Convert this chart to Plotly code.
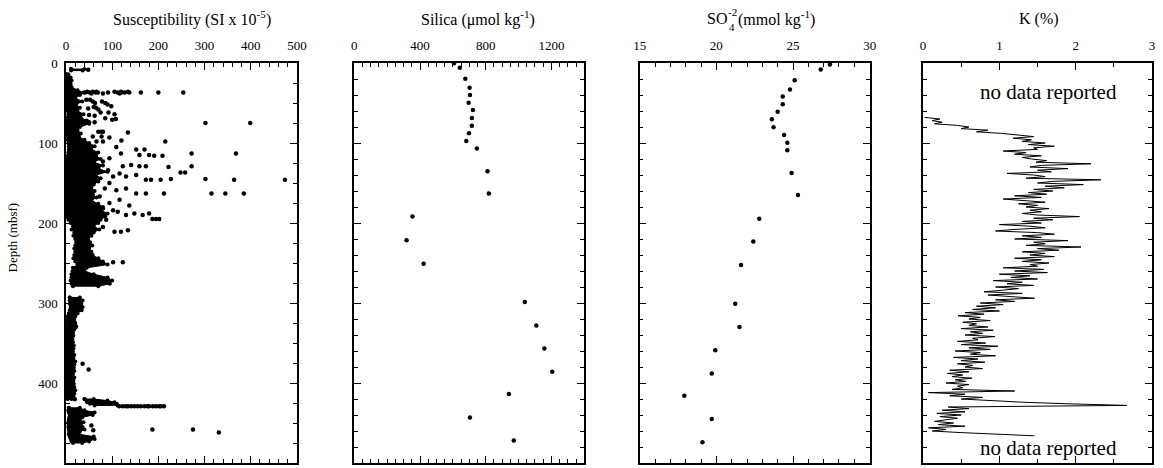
import plotly.graph_objects as go

FONT = "Liberation Serif"

# ---------------- Magnetic susceptibility (SI x 1e-5) ----------------
# Dense part of the log, as depth / low / high envelope; None separates depth intervals
susc_core_depth = [7.5, 9.5, None,
                   14, 18, 22, 26, 30, 34, 37, 40, 44, 48, 52, 56, 60, 64, 68, 72, 76, 80, 84, 88, 92, 96,
                   100, 104, 108, 112, 116, 120, 124, 128, 132, 136, 140, 144, 148, 152, 156, 160, 164,
                   168, 172, 176, 180, 184, 188, 192, 196, 200, 204, 208, 212, 216, 220, 224, 228, 232,
                   236, 240, 244, 248, 252, 256, 260, 264, 268, 272, 276, 279, None,
                   293, 297, 301, 305, 309, 313, 317, 321, 325, 329, 333, 337, 341, 345, 349, 353, 357,
                   361, 365, 369, 373, 377, 381, 385, 389, 393, 397, 401, 405, 409, 413, 417, 420, None,
                   420, 422, 424, 426, 428, None,
                   431, 434, 437, 440, 443, 446, 449, 452, 455, 458, 461, 464, 467, 470, 473, 475]
susc_core_lo = [11, 11, None,
                0, 0, 0, 1, 0, 1, 1, 1, 1, 2, 2, 3, 4, 5, 4, 1, 2, 1, 1, 2, 3, 4,
                5, 6, 6, 5, 4, 3, 2, 3, 1, 2, 3, 2, 1, 2, 1, 1, 2,
                1, 2, 1, 2, 1, 3, 2, 5, 10, 15, 12, 18, 16, 20, 22, 20, 18,
                20, 18, 16, 20, 25, 15, 14, 12, 12, 10, 12, 15, None,
                8, 8, 8, 10, 8, 6, 4, 3, 3, 3, 3, 2, 2, 2, 2, 2, 2,
                1, 2, 2, 3, 2, 2, 2, 1, 1, 2, 2, 1, 2, 2, 3, 4, None,
                40, 44, 46, 52, 62, None,
                6, 5, 6, 8, 7, 6, 5, 6, 5, 6, 7, 6, 8, 10, 12, 15]
susc_core_hi = [40, 36, None,
                5, 10, 12, 10, 12, 25, 38, 30, 20, 35, 22, 30, 25, 38, 32, 45, 50, 30, 25, 32, 28, 40,
                50, 62, 55, 70, 65, 75, 60, 80, 70, 90, 65, 75, 70, 60, 55, 62, 58,
                66, 55, 70, 80, 75, 90, 85, 75, 70, 60, 72, 60, 55, 48, 52, 57, 50,
                55, 58, 70, 80, 90, 45, 40, 60, 90, 100, 95, 70, None,
                30, 36, 33, 36, 34, 25, 20, 18, 20, 22, 18, 15, 16, 14, 15, 17, 16,
                15, 18, 16, 20, 18, 17, 18, 15, 18, 16, 17, 18, 20, 18, 16, 12, None,
                60, 90, 105, 110, 112, None,
                30, 40, 62, 58, 35, 30, 38, 32, 36, 40, 30, 28, 60, 62, 50, 35]

# Scattered high readings outside the dense part
susc_pts_depth = [8.5,
                  37, 36, 37, 38, 36, 37, 36, 37, 38, 37, 36, 37, 38, 36, 37, 37, 36, 37, 37, 37, 37,
                  46, 46, 48, 50, 48, 50, 52, 54, 55, 56, 57, 58,
                  62, 62, 64, 65, 66, 69, 71, 70,
                  75, 75, 74, 74,
                  86, 86, 86, 87, 92, 92, 93, 97, 98, 98, 98,
                  105, 108, 108, 113, 115, 115, 116, 116, 113, 113,
                  119, 123, 129, 127.5, 129, 129, 130, 129,
                  134, 137, 137, 138, 142, 140, 142,
                  146, 146, 146, 145, 145, 146, 146, 150,
                  157, 157, 159, 163, 163, 163, 163, 163, 163, 167,
                  171, 175, 178, 182, 184, 186, 190, 188, 190, 188, 195, 195, 195, 196, 192,
                  202, 205, 211, 211, 209,
                  249, 249,
                  330, 376, 383, 420.4,
                  429, 429, 429, 429, 429, 429, 429, 429, 429, 429, 429, 429, 429, 429, 429, 429,
                  438, 453, 459,
                  458, 458, 462]
susc_pts_val = [48,
                41, 46, 51, 55, 58, 64, 66, 69, 80, 91, 105, 112, 116, 119, 120, 127, 134, 137, 162, 200, 254,
                44, 52, 58, 63, 78, 85, 90, 98, 60, 65, 48, 70,
                75, 92, 105, 50, 62, 85, 100, 108,
                302, 399, 50, 62,
                70, 77, 80, 134, 58, 77, 94, 120, 66, 80, 215,
                109, 152, 170, 119, 159, 180, 191, 209, 272, 368,
                94, 80, 123, 141, 159, 173, 222, 272,
                91, 248, 258, 116, 130, 152, 102,
                173, 184, 205, 227, 302, 364, 474, 94,
                130, 84, 109, 152, 173, 212, 315, 345, 385, 73,
                116, 94, 137, 80, 102, 112, 130, 148, 166, 180, 187, 195, 202, 87, 66,
                59, 80, 105, 119, 134,
                102, 123,
                21, 36, 49, 19,
                115, 123, 130, 134, 141, 148, 155, 162, 170, 177, 180, 188, 195, 202, 205, 212,
                57, 55, 59,
                187, 275, 331]

# ---------------- Pore-water silica (umol/kg) ----------------
silica_depth = [0.3, 6, 19.6, 30.8, 40, 49.6, 58.8, 68.8, 78.3, 87.9, 97.5, 107, 135.4, 163,
                192, 221.7, 250.8, 298.8, 328, 357, 386, 413.8, 443, 472]
silica_val = [607, 642, 676, 702, 704, 696, 722, 716, 716, 698, 682, 746, 811, 819,
              354, 318, 422, 1038, 1108, 1157, 1205, 941, 704, 971]

# ---------------- Pore-water sulfate (mmol/kg) ----------------
so4_depth = [2, 8, 21.7, 33, 42, 51.7, 61, 70.4, 80.4, 90, 99.6, 109, 137.5, 165,
             194.6, 223, 252.5, 300.8, 330, 359, 388, 415.8, 445, 474]
so4_val = [27.41, 26.81, 25.11, 24.8, 24.33, 24.33, 24.0, 23.62, 23.73, 24.42, 24.63, 24.63, 24.91, 25.32,
           22.8, 22.41, 21.61, 21.23, 21.51, 19.93, 19.7, 17.91, 19.7, 19.09]

# ---------------- Potassium from NGR log (%), 2 m samples from 68 m ----------------
k_top, k_step = 68, 2
k_val = [0.02, 0.22, 0.12, 0.25, 0.15, 0.45, 0.6, 0.5, 0.85, 0.7,
         1.03, 1.2, 1.45, 1.18, 1.42, 1.3, 1.6, 1.38, 1.72, 1.45,
         1.5, 1.05, 1.35, 1.2, 1.55, 1.3, 1.42, 1.62, 1.48, 2.2,
         1.55, 1.4, 1.9, 1.5, 1.68, 1.1, 1.45, 1.6, 1.35, 2.33,
         1.7, 1.5, 2.1, 1.6, 1.85, 1.45, 1.7, 1.38, 1.62, 1.2,
         1.55, 1.05, 1.35, 1.6, 1.25, 1.5, 1.35, 1.65, 1.4, 1.55,
         1.3, 1.5, 2.05, 1.45, 1.7, 1.3, 1.55, 1.0, 1.4, 1.6,
         1.2, 0.95, 1.5, 1.72, 1.3, 1.55, 1.2, 1.9, 1.45, 1.6,
         1.35, 2.07, 1.5, 1.78, 1.3, 1.6, 1.4, 1.72, 1.2, 1.55,
         1.3, 1.65, 1.4, 1.5, 1.05, 1.58, 1.2, 1.63, 1.0, 1.4,
         1.15, 1.5, 0.92, 1.3, 1.1, 1.45, 0.95, 1.25, 1.05, 0.8,
         1.3, 0.85, 1.15, 1.46, 0.95, 1.2, 0.75, 1.05, 0.7, 0.95,
         0.65, 1.0, 0.55, 0.8, 0.46, 0.75, 0.6, 0.88, 0.52, 0.7,
         0.6, 0.85, 0.5, 0.92, 0.62, 0.78, 0.55, 0.94, 0.65, 0.72,
         0.45, 0.82, 0.5, 0.98, 0.6, 0.88, 0.42, 0.75, 0.62, 0.95,
         0.4, 0.72, 0.5, 0.81, 0.45, 0.65, 0.55, 0.78, 0.35, 0.6,
         0.32, 0.52, 0.38, 0.64, 0.42, 0.56, 0.3, 0.6, 0.45, 0.52,
         0.38, 1.2, 0.07, 0.55, 0.35, 0.78, 0.5, 0.9, 1.3, 1.9,
         2.67, 0.33, 0.6, 0.25, 0.55, 0.18, 0.5, 0.22, 0.45, 0.3,
         0.15, 0.4, 0.2, 0.55, 0.07, 0.3, 0.12, 0.5, 0.95, 1.46]
k_depth = [k_top + k_step * i for i in range(len(k_val))]

# Axis settings per panel
x_ranges = [[0, 500], [0, 1400], [15, 30], [0, 3]]
x_tickvals = [[0, 100, 200, 300, 400, 500],
              [0, 400, 800, 1200],
              [15, 20, 25, 30],
              [0, 1, 2, 3]]
x_minor = [20, 50, 1, 0.5]
y_minor = [25, 20, 20, 20]
depth_ticks = [0, 100, 200, 300, 400, 500]

domains = [[0.0, 0.2126], [0.2655, 0.4772], [0.5283, 0.7400], [0.7892, 1.0]]


def envelope(depth, lo, hi):
    """Closed outline (low edge down, high edge up) for every interval."""
    xs, ys = [], []
    seg_d, seg_lo, seg_hi = [], [], []
    for d, a, b in zip(depth + [None], lo + [None], hi + [None]):
        if d is None:
            if seg_d:
                xs += seg_lo + seg_hi[::-1] + [seg_lo[0], None]
                ys += seg_d + seg_d[::-1] + [seg_d[0], None]
            seg_d, seg_lo, seg_hi = [], [], []
        else:
            seg_d.append(d)
            seg_lo.append(a)
            seg_hi.append(b)
    return xs, ys


fig = go.Figure()

ex, ey = envelope(susc_core_depth, susc_core_lo, susc_core_hi)
fig.add_trace(go.Scatter(x=ex, y=ey, mode="lines+markers", fill="toself", fillcolor="black",
                         line=dict(color="black", width=1), marker=dict(size=4, color="black"),
                         xaxis="x", yaxis="y", hoverinfo="skip"))
fig.add_trace(go.Scatter(x=susc_pts_val, y=susc_pts_depth, mode="markers",
                         marker=dict(size=4.5, color="black"), xaxis="x", yaxis="y"))
fig.add_trace(go.Scatter(x=silica_val, y=silica_depth, mode="markers",
                         marker=dict(size=4.5, color="black"), xaxis="x2", yaxis="y2"))
fig.add_trace(go.Scatter(x=so4_val, y=so4_depth, mode="markers",
                         marker=dict(size=4.5, color="black"), xaxis="x3", yaxis="y3"))
fig.add_trace(go.Scatter(x=k_val, y=k_depth, mode="lines",
                         line=dict(color="black", width=1), xaxis="x4", yaxis="y4"))

tick_font = dict(family=FONT, size=13, color="black")
layout = dict(width=1163, height=468, margin=dict(l=66, r=1, t=63, b=5),
              paper_bgcolor="white", plot_bgcolor="white", showlegend=False,
              font=dict(family=FONT, color="black"))

for i in range(4):
    sfx = "" if i == 0 else str(i + 1)
    layout["xaxis" + sfx] = dict(
        domain=domains[i], range=x_ranges[i], anchor="y" + sfx, side="top",
        tickmode="array", tickvals=x_tickvals[i],
        ticks="inside", ticklen=7, tickwidth=1, tickcolor="black",
        minor=dict(dtick=x_minor[i], tick0=x_ranges[i][0], ticks="inside", ticklen=4,
                   tickwidth=1, tickcolor="black", showgrid=False),
        showline=True, linecolor="black", linewidth=1.5, mirror="allticks",
        showgrid=False, zeroline=False, tickfont=tick_font, ticklabelstandoff=6)
    layout["yaxis" + sfx] = dict(
        domain=[0, 1], range=[500, 0], anchor="x" + sfx,
        tickmode="array", tickvals=depth_ticks, showticklabels=(i == 0),
        ticks="inside", ticklen=7, tickwidth=1, tickcolor="black",
        minor=dict(dtick=y_minor[i], tick0=0, ticks="inside", ticklen=4,
                   tickwidth=1, tickcolor="black", showgrid=False),
        showline=True, linecolor="black", linewidth=1.5, mirror="allticks",
        showgrid=False, zeroline=False, tickfont=tick_font, ticklabelstandoff=4)

fig.update_layout(**layout)


def px_x(p):
    return (p - 66) / 1096


def px_y(p):
    return (463 - p) / 400


title_font = dict(family=FONT, size=16, color="black")
small_font = dict(family=FONT, size=11, color="black")
title_y = px_y(19)

for text, cx in [("Susceptibility (SI x 10<sup>-5</sup>)", 193),
                 ("Silica (\u03bcmol kg<sup>-1</sup>)", 482),
                 ("K (%)", 1048)]:
    fig.add_annotation(xref="paper", yref="paper", x=px_x(cx), y=title_y,
                       xanchor="center", yanchor="middle", showarrow=False,
                       font=title_font, text=text)

# Sulfate title: charge stacked over the subscript
fig.add_annotation(xref="paper", yref="paper", x=px_x(734), y=title_y, xanchor="right",
                   yanchor="middle", showarrow=False, font=title_font, text="SO", borderpad=0)
fig.add_annotation(xref="paper", yref="paper", x=px_x(733), y=px_y(12), xanchor="left",
                   yanchor="middle", showarrow=False, font=small_font, text="-2", borderpad=0)
fig.add_annotation(xref="paper", yref="paper", x=px_x(734), y=px_y(27), xanchor="left",
                   yanchor="middle", showarrow=False, font=small_font, text="4", borderpad=0)
fig.add_annotation(xref="paper", yref="paper", x=px_x(743), y=title_y, xanchor="left",
                   yanchor="middle", showarrow=False, font=title_font,
                   text="(mmol kg<sup>-1</sup>)", borderpad=0)

fig.add_annotation(xref="paper", yref="paper", x=px_x(12), y=px_y(237),
                   textangle=-90, showarrow=False, xanchor="center", yanchor="middle",
                   font=dict(family=FONT, size=13, color="black"), text="Depth (mbsf)")

for d in (36, 481):
    fig.add_annotation(xref="x4", yref="y4", x=1.64, y=d, showarrow=False,
                       xanchor="center", yanchor="middle",
                       font=dict(family=FONT, size=21, color="black"), text="no data reported")

fig.write_html("out.html")
